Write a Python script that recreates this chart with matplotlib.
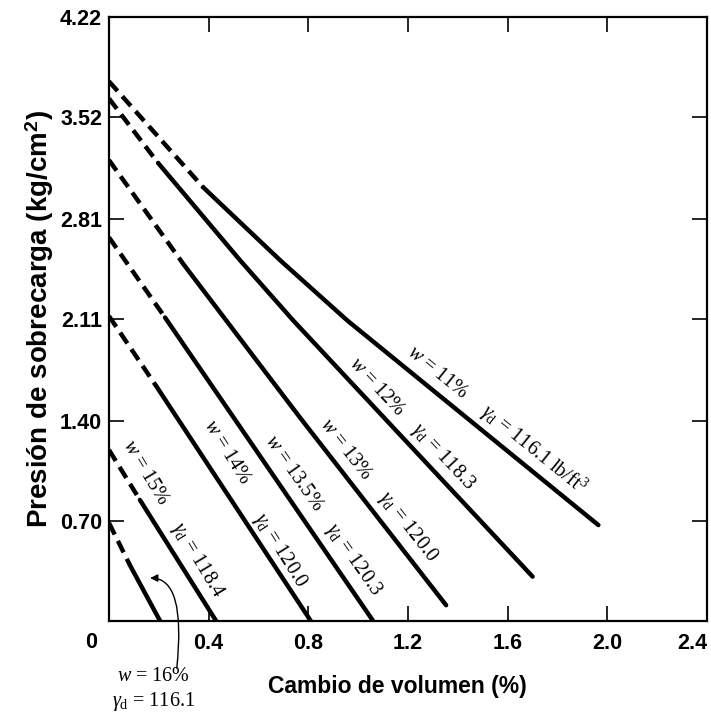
import matplotlib
matplotlib.use("Agg")
import matplotlib.pyplot as plt

plt.rcParams['mathtext.fontset'] = 'custom'
plt.rcParams['mathtext.rm'] = 'Liberation Serif'
plt.rcParams['mathtext.it'] = 'Liberation Serif:italic'
plt.rcParams['mathtext.bf'] = 'Liberation Sans:bold'

# ----------------------------------------------------------- data
# each curve: dashed part (extrapolated) + solid part, x = cambio de volumen (%), y = kg/cm2
w11_dash_x = [0.0, 0.378]
w11_dash_y = [3.77, 3.03]
w11_x = [0.378, 0.687, 0.956, 1.40, 1.964]
w11_y = [3.03, 2.52, 2.10, 1.47, 0.67]

w12_dash_x = [0.0, 0.197]
w12_dash_y = [3.65, 3.20]
w12_x = [0.197, 0.526, 0.739, 1.70]
w12_y = [3.20, 2.52, 2.10, 0.31]

w13_dash_x = [0.0, 0.30]
w13_dash_y = [3.22, 2.49]
w13_x = [0.30, 0.767, 1.353]
w13_y = [2.49, 1.42, 0.11]

w135_dash_x = [0.0, 0.225]
w135_dash_y = [2.68, 2.12]
w135_x = [0.225, 1.06]
w135_y = [2.12, 0.0]

w14_dash_x = [0.0, 0.19]
w14_dash_y = [2.13, 1.64]
w14_x = [0.19, 0.81]
w14_y = [1.64, 0.0]

w15_dash_x = [0.0, 0.124]
w15_dash_y = [1.195, 0.846]
w15_x = [0.124, 0.43]
w15_y = [0.846, 0.0]

w16_dash_x = [0.0, 0.084]
w16_dash_y = [0.685, 0.39]
w16_x = [0.084, 0.205]
w16_y = [0.39, 0.0]

xticks = [0.4, 0.8, 1.2, 1.6, 2.0, 2.4]
xticklabels = ["0.4", "0.8", "1.2", "1.6", "2.0", "2.4"]
yticks = [0.70, 1.40, 2.11, 2.81, 3.52, 4.22]
yticklabels = ["0.70", "1.40", "2.11", "2.81", "3.52", "4.22"]

# curve labels: (text, x, y, rotation)
curve_labels = [
    (r"$w$ = 11%", 1.317, 1.733, -39),
    (r"$\gamma_\mathrm{d}$ = 116.1 lb/ft$^3$", 1.703, 1.195, -39),
    (r"$w$ = 12%", 1.076, 1.635, -47),
    (r"$\gamma_\mathrm{d}$ = 118.3", 1.341, 1.146, -47),
    (r"$w$ = 13%", 0.948, 1.195, -52),
    (r"$\gamma_\mathrm{d}$ = 120.0", 1.197, 0.657, -52),
    (r"$w$ = 13.5%", 0.739, 1.034, -55),
    (r"$\gamma_\mathrm{d}$ = 120.3", 0.980, 0.426, -55),
    (r"$w$ = 14%", 0.474, 1.174, -58),
    (r"$\gamma_\mathrm{d}$ = 120.0", 0.687, 0.496, -58),
    (r"$w$ = 15%", 0.145, 1.034, -59),
    (r"$\gamma_\mathrm{d}$ = 118.4", 0.353, 0.426, -59),
]

# ----------------------------------------------------------- figure
fig = plt.figure(figsize=(7.11, 7.16), dpi=100)
ax = fig.add_axes([0.1533, 0.1327, 0.8411, 0.8436])

lw = 3.2
dash = (2.9, 1.6)
curves = [
    (w11_dash_x, w11_dash_y, w11_x, w11_y),
    (w12_dash_x, w12_dash_y, w12_x, w12_y),
    (w13_dash_x, w13_dash_y, w13_x, w13_y),
    (w135_dash_x, w135_dash_y, w135_x, w135_y),
    (w14_dash_x, w14_dash_y, w14_x, w14_y),
    (w15_dash_x, w15_dash_y, w15_x, w15_y),
    (w16_dash_x, w16_dash_y, w16_x, w16_y),
]
for dx, dy, sx, sy in curves:
    ax.plot(dx, dy, color="black", lw=lw, dashes=dash, solid_capstyle="butt")
    ax.plot(sx, sy, color="black", lw=lw, solid_capstyle="round")

for txt, x, y, rot in curve_labels:
    ax.text(x, y, txt, rotation=rot, ha="center", va="center",
            family="Liberation Serif", fontsize=14.5, rotation_mode="anchor")

# w = 16% label below the axis, with curved arrow
ax.text(0.18, -0.39, r"$w$ = 16%", ha="center", va="center",
        family="Liberation Serif", fontsize=14.5, clip_on=False)
ax.text(0.18, -0.56, r"$\gamma_\mathrm{d}$ = 116.1", ha="center", va="center",
        family="Liberation Serif", fontsize=14.5, clip_on=False)
ax.annotate("", xy=(0.165, 0.30), xytext=(0.272, -0.33),
            arrowprops=dict(arrowstyle="-|>", color="black", lw=1.0,
                            connectionstyle="angle3,angleA=84,angleB=0",
                            mutation_scale=11, shrinkA=0, shrinkB=0),
            annotation_clip=False)

ax.set_xlim(0, 2.4)
ax.set_ylim(0, 4.22)
ax.set_xticks(xticks)
ax.set_xticklabels(xticklabels)
ax.set_yticks(yticks)
ax.set_yticklabels(yticklabels)
ax.tick_params(direction="in", length=11, width=1.2, top=True, right=True,
               labelsize=15.5)
ax.tick_params(axis="x", pad=9)
ax.tick_params(axis="y", pad=5)
for lab in ax.get_xticklabels() + ax.get_yticklabels():
    lab.set_fontweight("bold")
    lab.set_family("Liberation Sans")
ax.get_xticklabels()[-1].set_ha("right")
for sp in ax.spines.values():
    sp.set_linewidth(1.6)

ax.text(-0.07, -0.15, "0", ha="center", va="center", fontsize=15.5,
        fontweight="bold", family="Liberation Sans", clip_on=False)

ax.set_xlabel("Cambio de volumen (%)", fontsize=16.5, fontweight="bold",
              family="Liberation Sans", va="center")
ax.xaxis.set_label_coords(0.482, -0.108)
ax.set_ylabel(r"Presión de sobrecarga (kg/cm$^{\mathbf{2}}$)", fontsize=20,
              fontweight="bold", family="Liberation Sans", va="center")
ax.yaxis.set_label_coords(-0.115, 0.5)

fig.savefig("out.png", dpi=100)
